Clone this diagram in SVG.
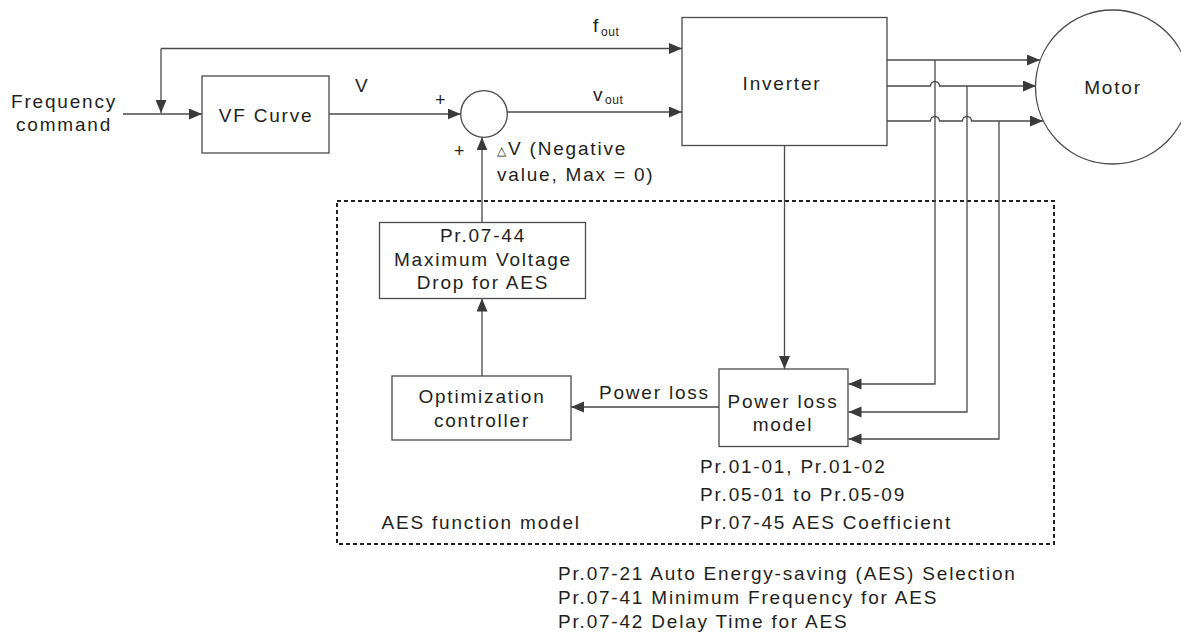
<svg xmlns="http://www.w3.org/2000/svg" width="1181" height="632" viewBox="0 0 1181 632">
<style>
.ln{stroke:#4a4a4a;stroke-width:1.3;fill:none}
.bx{fill:#fff;stroke:#4a4a4a;stroke-width:1.3}
text{font-family:"Liberation Sans",Arial,sans-serif;font-size:19px;fill:#231f20;letter-spacing:1.8px}
.m{text-anchor:middle}
.sub{font-size:12px;letter-spacing:0.6px}
.pl{font-size:18px;letter-spacing:0}
</style>
<defs>
<marker id="ah" markerUnits="userSpaceOnUse" markerWidth="14" markerHeight="12" refX="13" refY="5.5" orient="auto"><path d="M0,0 L13,5.5 L0,11 z" fill="#3a3a3a"/></marker>
</defs>
<rect x="337" y="201" width="717" height="343" fill="none" stroke="#222" stroke-width="2" stroke-dasharray="4 3"/>
<g id="connectors">
<path class="ln" d="M123,114 H202" marker-end="url(#ah)"/>
<path class="ln" d="M161,48.5 H682" marker-end="url(#ah)"/>
<path class="ln" d="M161,48.5 V113" marker-end="url(#ah)"/>
<path class="ln" d="M329,114 H460.7" marker-end="url(#ah)"/>
<path class="ln" d="M507,112 H682" marker-end="url(#ah)"/>
<path class="ln" d="M887,60 H1040" marker-end="url(#ah)"/>
<path class="ln" d="M887,86 H930.5 a4.5,4.5 0 0 1 9,0 H1036" marker-end="url(#ah)"/>
<path class="ln" d="M887,121 H930.5 a4.5,4.5 0 0 1 9,0 H962.5 a4.5,4.5 0 0 1 9,0 H1043" marker-end="url(#ah)"/>
<path class="ln" d="M935,60 V384 H848.5" marker-end="url(#ah)"/>
<path class="ln" d="M967,86 V412 H848.5" marker-end="url(#ah)"/>
<path class="ln" d="M999,121 V439 H848.5" marker-end="url(#ah)"/>
<path class="ln" d="M784.5,145.5 V369" marker-end="url(#ah)"/>
<path class="ln" d="M719,407 H571" marker-end="url(#ah)"/>
<path class="ln" d="M482,376 V298.5" marker-end="url(#ah)"/>
<path class="ln" d="M482,222.5 V137.3" marker-end="url(#ah)"/>
</g>
<g id="freq-command">
<text class="m" x="64" y="108">Frequency</text>
<text class="m" x="64" y="131">command</text>
</g>
<g id="vf-curve">
<rect class="bx" x="202" y="76" width="127" height="77"/>
<text class="m" x="266" y="122">VF Curve</text>
</g>
<g id="labels">
<text x="355" y="92">V</text>
<text x="593" y="32">f</text><text class="sub" x="601" y="36">out</text>
<text x="593" y="101">v</text><text class="sub" x="605" y="104">out</text>
<text class="pl" x="435" y="106">+</text>
<text class="pl" x="454" y="157">+</text>
<text x="497" y="155"><tspan font-size="12" letter-spacing="0">△</tspan><tspan dx="2">V (Negative</tspan></text>
<text x="497" y="181">value, Max = 0)</text>
<text x="599" y="399">Power loss</text>
</g>
<g id="sum">
<circle class="bx" cx="484" cy="114" r="23.3"/>
</g>
<g id="inverter">
<rect class="bx" x="682" y="17.5" width="205" height="128"/>
<text class="m" x="782" y="90">Inverter</text>
</g>
<g id="motor">
<circle class="bx" cx="1112.5" cy="87" r="77"/>
<text class="m" x="1113" y="94">Motor</text>
</g>
<g id="max-voltage-drop">
<rect class="bx" x="379.5" y="222.5" width="206" height="76"/>
<text class="m" x="483" y="242">Pr.07-44</text>
<text class="m" x="483" y="266">Maximum Voltage</text>
<text class="m" x="483" y="289">Drop for AES</text>
</g>
<g id="optimization-controller">
<rect class="bx" x="392" y="376" width="179" height="64"/>
<text class="m" x="482" y="403">Optimization</text>
<text class="m" x="482" y="427">controller</text>
</g>
<g id="power-loss-model">
<rect class="bx" x="719" y="369" width="129" height="77.5"/>
<text class="m" x="783" y="408">Power loss</text>
<text class="m" x="783" y="431">model</text>
</g>
<g id="aes-params">
<text x="700" y="473">Pr.01-01, Pr.01-02</text>
<text x="700" y="501">Pr.05-01 to Pr.05-09</text>
<text x="700" y="529">Pr.07-45 AES Coefficient</text>
<text x="381.5" y="529">AES function model</text>
</g>
<g id="aes-settings">
<text x="558" y="580">Pr.07-21 Auto Energy-saving (AES) Selection</text>
<text x="558" y="604">Pr.07-41 Minimum Frequency for AES</text>
<text x="558" y="628">Pr.07-42 Delay Time for AES</text>
</g>
</svg>
